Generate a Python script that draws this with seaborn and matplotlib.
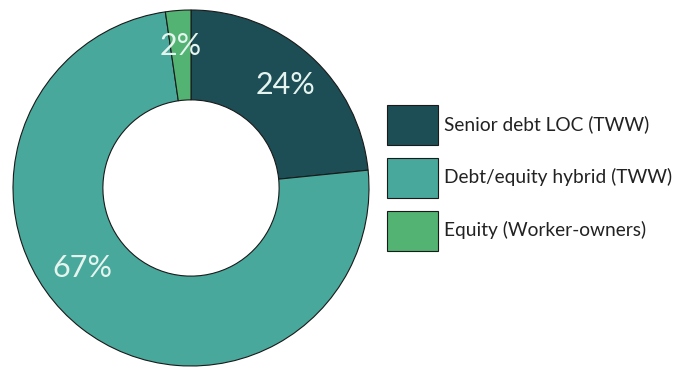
import matplotlib
matplotlib.use("Agg")
import matplotlib.pyplot as plt
import seaborn as sns
from matplotlib.patches import Patch

sns.set_theme(style="white")
plt.rcParams['font.family'] = ['Lato', 'DejaVu Sans']

categories = ["Senior debt LOC (TWW)", "Debt/equity hybrid (TWW)", "Equity (Worker-owners)"]
values = [23.4, 74.3, 2.3]
pct_labels = ["24%", "67%", "2%"]
colors = ["#1d4e55", "#48a89b", "#52b372"]

W, H = 678, 381
fig = plt.figure(figsize=(W / 100, H / 100), dpi=100)
cx, cy, R = 191, 188, 178
ax = fig.add_axes([(cx - R) / W, (H - cy - R) / H, 2 * R / W, 2 * R / H])

wedges, _ = ax.pie(values, colors=colors, startangle=90, counterclock=False,
                   radius=1.0,
                   wedgeprops=dict(width=0.505, edgecolor="#1a1a1a", linewidth=0.8))
ax.set_xlim(-1, 1)
ax.set_ylim(-1, 1)
ax.set_aspect("equal")
ax.axis("off")

label_pos = [(0.53, 0.58), (-0.61, -0.45), (-0.06, 0.80)]
for (x, y), t in zip(label_pos, pct_labels):
    ax.text(x, y, t, ha="center", va="center", color="#e6f4f0",
            fontsize=22, fontweight="normal")

fs = 13.8
handles = [Patch(facecolor=c, edgecolor="#1a1a1a", linewidth=0.8) for c in colors]
leg = fig.legend(handles, categories, loc="upper left",
                 bbox_to_anchor=(383 / W, 1 - 101 / H),
                 frameon=False, fontsize=fs,
                 handlelength=2.66, handleheight=2.83,
                 labelspacing=0.68, handletextpad=0.3, borderpad=0.2,
                 borderaxespad=0)
for t in leg.get_texts():
    t.set_color("#222222")

fig.savefig("out.png", dpi=100)
